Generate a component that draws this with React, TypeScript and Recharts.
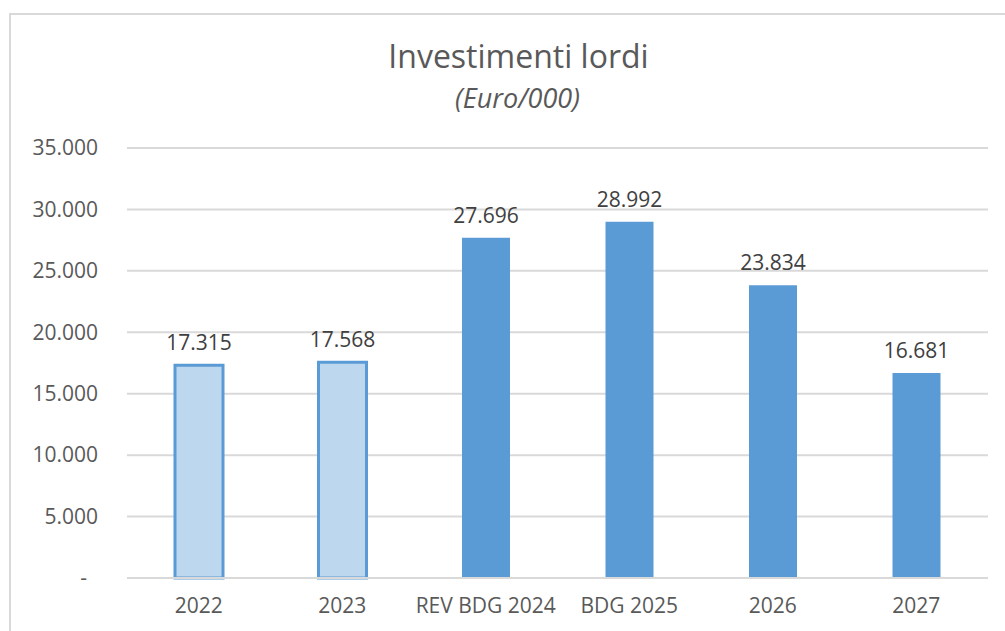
import React from 'react';
import { BarChart, Bar, XAxis, YAxis, CartesianGrid, Cell, LabelList } from 'recharts';

const categories = ['2022', '2023', 'REV BDG 2024', 'BDG 2025', '2026', '2027'];
const investimenti = [17315, 17568, 27696, 28992, 23834, 16681];
const consuntivo = [true, true, false, false, false, false]; // first two years shown as actuals (light fill)
const yTicks = [0, 5000, 10000, 15000, 20000, 25000, 30000, 35000];

const BLUE = '#5B9BD5';
const LIGHT_BLUE = '#BDD7EE';
const GRID = '#D9D9D9';
const FONT = '"Open Sans", sans-serif';

const data = categories.map((name, i) => ({ name, value: investimenti[i], actual: consuntivo[i] }));

// thousands with a dot, zero shown as a dash
const fmt = (v: number) => {
  if (v === 0) return '-';
  return String(Math.round(v)).replace(/\B(?=(\d{3})+(?!\d))/g, '.');
};

const YTick = (props: any) => {
  const { x, y, payload } = props;
  const isZero = payload.value === 0;
  return (
    <text
      x={x}
      y={y}
      dx={isZero ? -11 : 0}
      dy="0.35em"
      textAnchor="end"
      fill="#595959"
      fontSize={21}
      fontFamily={FONT}
    >
      {fmt(payload.value)}
    </text>
  );
};

export default function App() {
  return (
    <div
      style={{
        position: 'absolute',
        left: 0,
        top: 0,
        width: 1005,
        height: 631,
        overflow: 'hidden',
        background: '#fff',
        fontFamily: FONT,
      }}
    >
      <div
        style={{
          position: 'absolute',
          left: 9,
          top: 13,
          width: 1100,
          height: 700,
          border: `2px solid ${GRID}`,
        }}
      />
      <div
        style={{
          position: 'absolute',
          left: 0,
          width: 1037,
          top: 36,
          textAlign: 'center',
          fontSize: 32,
          color: '#595959',
          lineHeight: '40px',
        }}
      >
        Investimenti lordi
      </div>
      <div
        style={{
          position: 'absolute',
          left: 0,
          width: 1035,
          top: 80,
          textAlign: 'center',
          fontSize: 27,
          fontStyle: 'italic',
          color: '#595959',
          lineHeight: '36px',
        }}
      >
        (Euro/000)
      </div>
      <div style={{ position: 'absolute', left: 0, top: 0 }}>
        <BarChart
          width={1005}
          height={631}
          data={data}
          margin={{ top: 148, right: 17, bottom: 23, left: 17 }}
          barSize={48}
        >
          <CartesianGrid vertical={false} stroke={GRID} strokeWidth={2} />
          <XAxis
            dataKey="name"
            height={30}
            axisLine={{ stroke: GRID, strokeWidth: 2 }}
            tickLine={false}
            tickSize={0}
            tickMargin={20}
            tick={{ fill: '#595959', fontSize: 21, fontFamily: FONT }}
          />
          <YAxis
            width={110}
            domain={[0, 35000]}
            ticks={yTicks}
            axisLine={false}
            tickLine={false}
            tickSize={0}
            tickMargin={29}
            tick={<YTick />}
          />
          <Bar dataKey="value" isAnimationActive={false}>
            {data.map((d, i) => (
              <Cell
                key={`cell-${i}`}
                fill={d.actual ? LIGHT_BLUE : BLUE}
                stroke={d.actual ? BLUE : 'none'}
                strokeWidth={d.actual ? 3 : 0}
              />
            ))}
            <LabelList
              dataKey="value"
              position="top"
              offset={15}
              formatter={(v: any) => fmt(Number(v))}
              fill="#404040"
              fontSize={21}
              fontFamily={FONT}
            />
          </Bar>
        </BarChart>
      </div>
    </div>
  );
}
